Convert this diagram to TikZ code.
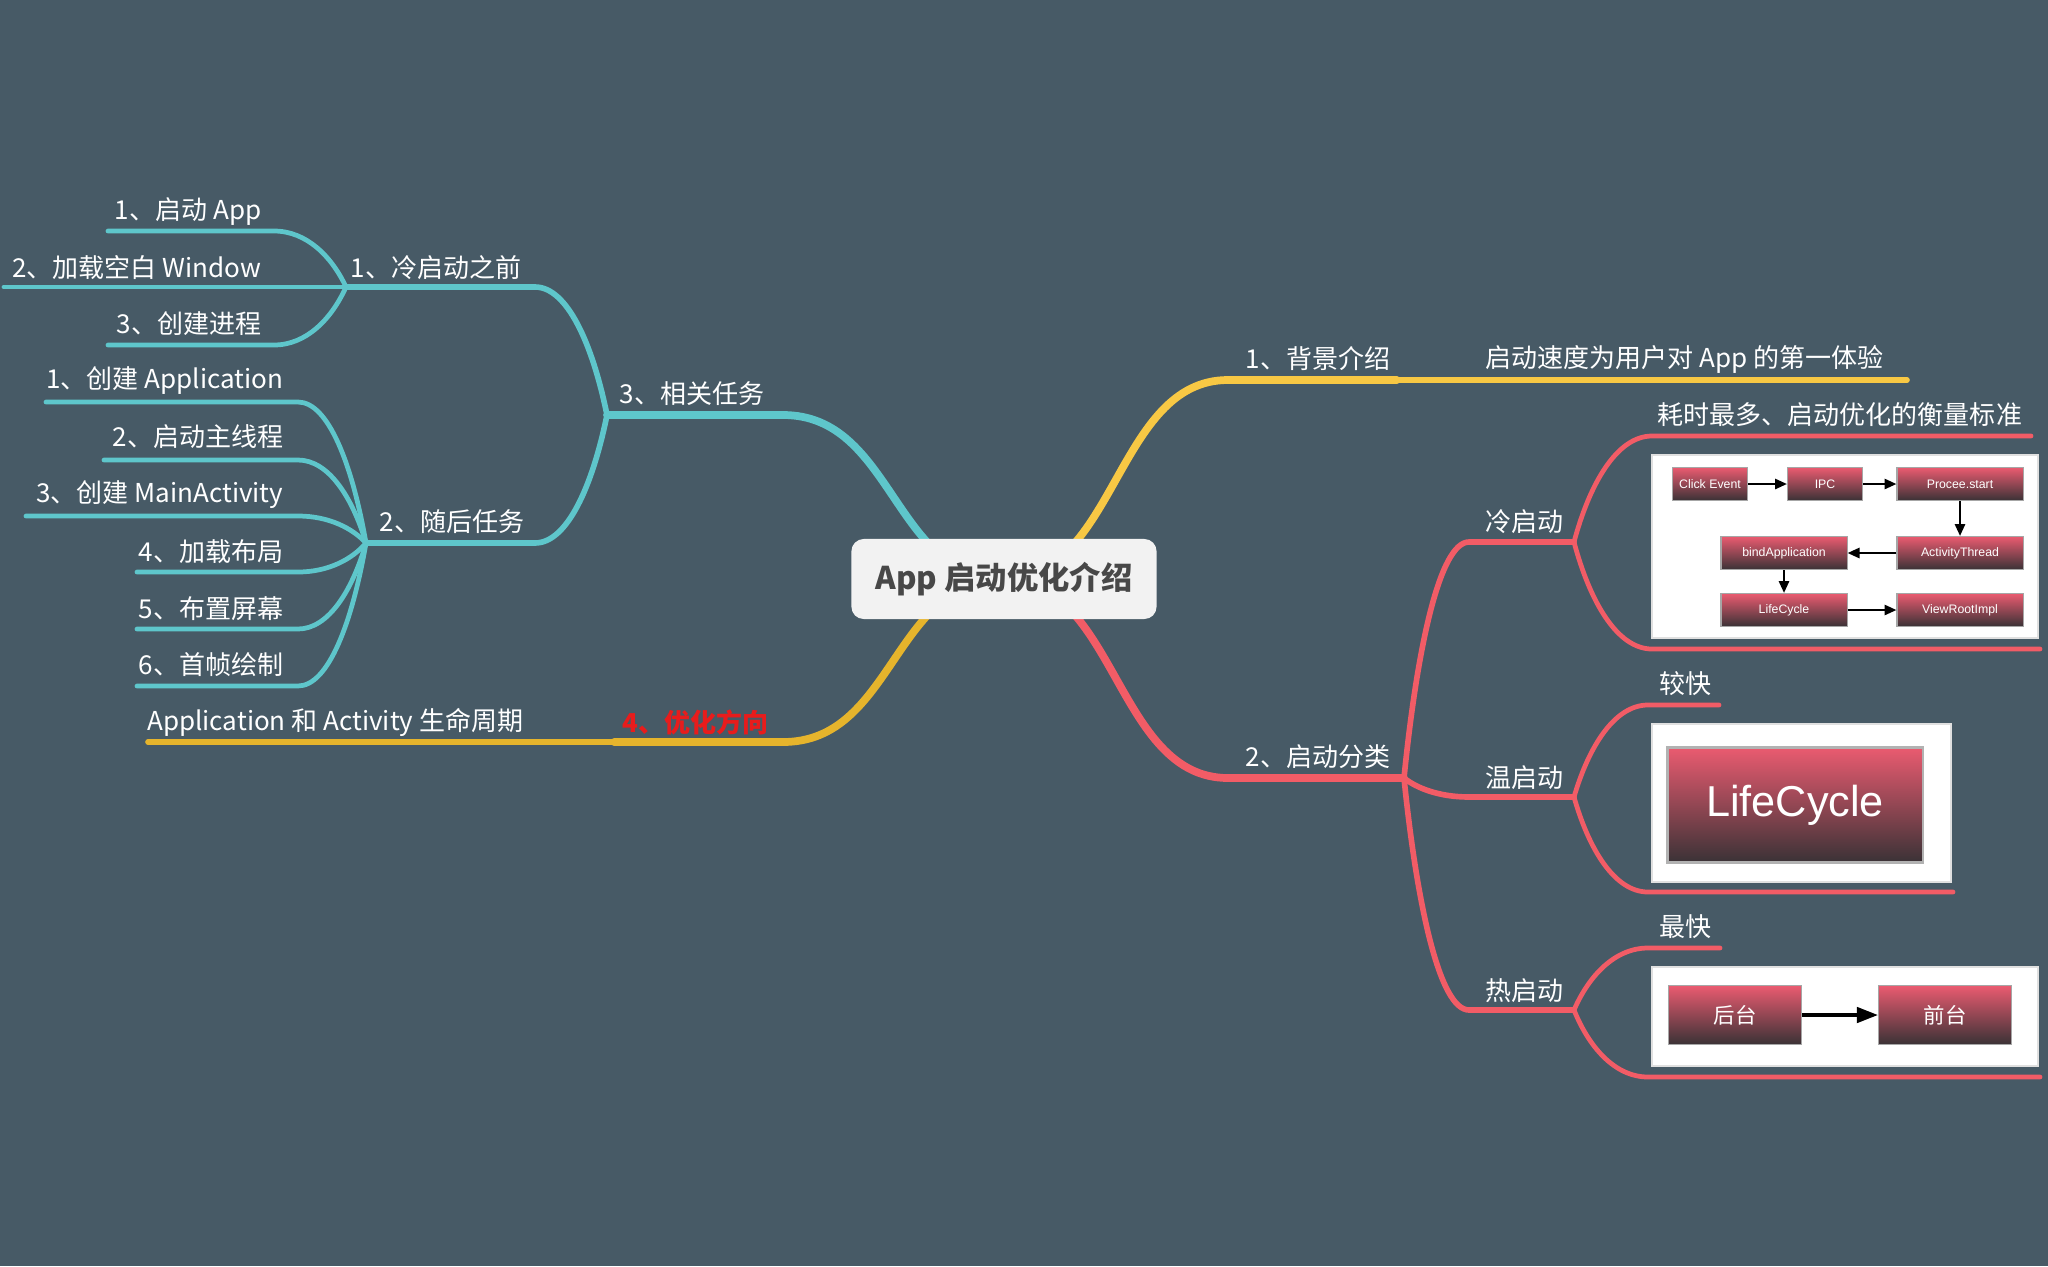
\documentclass[tikz,border=0pt]{standalone}
\usepackage{fontspec}
\setmainfont{Noto Sans CJK SC}
\newfontfamily\boxfont{Liberation Sans}
\usetikzlibrary{calc,arrows.meta}

\definecolor{slate}{RGB}{71,90,102}
\definecolor{rootfill}{RGB}{242,242,242}
\definecolor{roottext}{RGB}{72,72,72}
\definecolor{topgold}{RGB}{248,200,68}
\definecolor{lowgold}{RGB}{230,180,44}
\definecolor{rose}{RGB}{242,92,102}
\definecolor{aqua}{RGB}{94,198,203}
\definecolor{boxtop}{RGB}{234,91,112}
\definecolor{boxbottom}{RGB}{58,50,54}
\definecolor{alert}{RGB}{232,28,28}

\tikzset{
  sbend/.style={to path={let \p1=(\tikztostart), \p2=(\tikztotarget) in
    .. controls ({0.5*\x1+0.5*\x2},\y1) and ({0.5*\x1+0.5*\x2},\y2) .. (\p2)}},
  fork/.style={to path={let \p1=(\tikztostart), \p2=(\tikztotarget) in
    .. controls ({\x1+0.2*(\x2-\x1)},{\y1+0.55*(\y2-\y1)}) and ({\x2-0.45*(\x2-\x1)},\y2) .. (\p2)}},
  trunk/.style={line width=2.2pt, line cap=round},
  twig/.style={line width=1.6pt, line cap=round},
  leaf/.style={line width=1.35pt, line cap=round},
  lbl/.style={text=white, font=\fontsize{7.4}{9}\selectfont, inner sep=0pt},
  root/.style={fill=rootfill, rounded corners=3.5pt, minimum width=3.05cm, minimum height=0.8cm,
    text=roottext, font=\fontsize{8.9}{10}\selectfont\bfseries},
  shot/.style={fill=white, draw=black!12, line width=0.3pt},
  flowbox/.style={top color=boxtop, bottom color=boxbottom, draw=black!35, line width=0.3pt,
    text=white, inner sep=0pt, minimum height=0.33cm, font=\boxfont\fontsize{3.5}{4}\selectfont},
  flow/.style={-{Triangle[length=3.4pt,width=2.9pt]}, line width=0.65pt},
}

\begin{document}
\begin{tikzpicture}[x=0.01cm, y=-0.01cm]
  % canvas
  \fill[slate] (0,0) rectangle (2048,1266);
  \useasboundingbox (0,0) rectangle (2048,1266);

  % branch points
  \coordinate (hub) at (1004,579);
  \coordinate (b1) at (1228,380);  \coordinate (j1) at (1397,380);  \coordinate (e1) at (1907,380);
  \coordinate (b2) at (1228,778);  \coordinate (j2) at (1404,778);
  \coordinate (b3) at (783,415);   \coordinate (j3) at (607,415);
  \coordinate (b4) at (783,742);   \coordinate (j4) at (614,742);   \coordinate (e4) at (148,742);

  \coordinate (c21) at (1469,542);  \coordinate (e21) at (1574,542);
  \coordinate (c22) at (1469,797);  \coordinate (e22) at (1574,797);
  \coordinate (c23) at (1469,1010); \coordinate (e23) at (1574,1010);
  \coordinate (d211) at (1652,436); \coordinate (f211) at (2031,436);
  \coordinate (d212) at (1652,649); \coordinate (f212) at (2040,649);
  \coordinate (d221) at (1648,705); \coordinate (f221) at (1719,705);
  \coordinate (d222) at (1648,892); \coordinate (f222) at (1953,892);
  \coordinate (d231) at (1648,948); \coordinate (f231) at (1720,948);
  \coordinate (d232) at (1648,1077);\coordinate (f232) at (2040,1077);

  \coordinate (c31) at (535,287);  \coordinate (e31) at (346,287);
  \coordinate (c32) at (535,543);  \coordinate (e32) at (366,543);
  \coordinate (d311) at (274,231); \coordinate (f311) at (108,231);
  \coordinate (f312) at (4,287);
  \coordinate (d313) at (274,345); \coordinate (f313) at (108,345);
  \coordinate (d321) at (298,402); \coordinate (f321) at (46,402);
  \coordinate (d322) at (298,460); \coordinate (f322) at (104,460);
  \coordinate (d323) at (298,516); \coordinate (f323) at (26,516);
  \coordinate (d324) at (298,572); \coordinate (f324) at (137,572);
  \coordinate (d325) at (298,629); \coordinate (f325) at (137,629);
  \coordinate (d326) at (298,686); \coordinate (f326) at (137,686);

  % 1 background
  \draw[topgold, trunk] (hub) to[sbend] (b1) -- (j1);
  \draw[topgold, twig] (j1) -- (e1);

  % 2 start types
  \draw[rose, trunk] (hub) to[sbend] (b2) -- (j2);
  \foreach \k in {1,2,3} \draw[rose, twig] (j2) to[fork] (c2\k) -- (e2\k);
  \foreach \k in {1,2} {
    \draw[rose, leaf] (e21) to[fork] (d21\k) -- (f21\k);
    \draw[rose, leaf] (e22) to[fork] (d22\k) -- (f22\k);
    \draw[rose, leaf] (e23) to[fork] (d23\k) -- (f23\k);
  }

  % 3 related tasks
  \draw[aqua, trunk] (hub) to[sbend] (b3) -- (j3);
  \foreach \k in {1,2} \draw[aqua, twig] (j3) to[fork] (c3\k) -- (e3\k);
  \draw[aqua, leaf] (e31) to[fork] (d311) -- (f311);
  \draw[aqua, leaf] (e31) -- (f312);
  \draw[aqua, leaf] (e31) to[fork] (d313) -- (f313);
  \foreach \k in {1,...,6} \draw[aqua, leaf] (e32) to[fork] (d32\k) -- (f32\k);

  % 4 optimisation
  \draw[lowgold, trunk] (hub) to[sbend] (b4) -- (j4);
  \draw[lowgold, twig] (j4) -- (e4);

  % root
  \node[root] (root) at (hub) {App 启动优化介绍};

  % labels
  \node[lbl, anchor=west] (l1) at (1245,359) {1、背景介绍};
  \node[lbl, anchor=west] (l1a) at (1485,359) {启动速度为用户对 App 的第一体验};
  \node[lbl, anchor=west] (l2) at (1245,757) {2、启动分类};
  \node[lbl, anchor=west] (l21) at (1485,522) {冷启动};
  \node[lbl, anchor=west] (l22) at (1485,778) {温启动};
  \node[lbl, anchor=west] (l23) at (1485,991) {热启动};
  \node[lbl, anchor=west] (l211) at (1657,415) {耗时最多、启动优化的衡量标准};
  \node[lbl, anchor=west] (l221) at (1659,684) {较快};
  \node[lbl, anchor=west] (l231) at (1659,927) {最快};

  \node[lbl] (l3) at (692,394) {3、相关任务};
  \node[lbl, anchor=east] (l31) at (522,268) {1、冷启动之前};
  \node[lbl, anchor=east] (l32) at (525,522) {2、随后任务};
  \node[lbl, anchor=east] (l311) at (262,212) {1、启动 App};
  \node[lbl, anchor=east] (l312) at (262,268) {2、加载空白 Window};
  \node[lbl, anchor=east] (l313) at (262,324) {3、创建进程};
  \node[lbl, anchor=east] (l321) at (284,381) {1、创建 Application};
  \node[lbl, anchor=east] (l322) at (284,437) {2、启动主线程};
  \node[lbl, anchor=east] (l323) at (284,495) {3、创建 MainActivity};
  \node[lbl, anchor=east] (l324) at (284,552) {4、加载布局};
  \node[lbl, anchor=east] (l325) at (284,609) {5、布置屏幕};
  \node[lbl, anchor=east] (l326) at (284,665) {6、首帧绘制};

  \node[lbl, anchor=west, text=alert, font=\fontsize{7.4}{9}\selectfont\bfseries] (l4) at (622,722) {4、优化方向};
  \node[lbl, anchor=east] (l41) at (524,722) {Application 和 Activity 生命周期};

  % cold start flow
  \path[shot] (1652,455) rectangle (2038,638);
  \node[flowbox, minimum width=0.75cm] (click) at (1710,484) {Click Event};
  \node[flowbox, minimum width=0.75cm] (ipc) at (1825,484) {IPC};
  \node[flowbox, minimum width=1.26cm] (proc) at (1960,484) {Procee.start};
  \node[flowbox, minimum width=1.26cm] (thread) at (1960,553) {ActivityThread};
  \node[flowbox, minimum width=1.26cm] (bind) at (1784,553) {bindApplication};
  \node[flowbox, minimum width=1.26cm] (cycle) at (1784,610) {LifeCycle};
  \node[flowbox, minimum width=1.26cm] (vri) at (1960,610) {ViewRootImpl};
  \draw[flow] (click) -- (ipc);
  \draw[flow] (ipc) -- (proc);
  \draw[flow] (proc) -- (thread);
  \draw[flow] (thread) -- (bind);
  \draw[flow] (bind) -- (cycle);
  \draw[flow] (cycle) -- (vri);

  % warm start
  \path[shot] (1652,724) rectangle (1951,882);
  \node[flowbox, draw=black!30, line width=0.6pt, minimum width=2.55cm, minimum height=1.15cm,
    font=\boxfont\fontsize{12.3}{14}\selectfont] (cycle2) at (1795,805) {LifeCycle};

  % hot start
  \path[shot] (1652,967) rectangle (2038,1066);
  \node[flowbox, minimum width=1.33cm, minimum height=0.59cm, font=\fontsize{6.1}{7}\selectfont] (back) at (1735,1015) {后台};
  \node[flowbox, minimum width=1.33cm, minimum height=0.59cm, font=\fontsize{6.1}{7}\selectfont] (front) at (1945,1015) {前台};
  \draw[-{Triangle[length=6pt,width=4.4pt]}, line width=0.95pt] (back) -- (front);
\end{tikzpicture}
\end{document}
